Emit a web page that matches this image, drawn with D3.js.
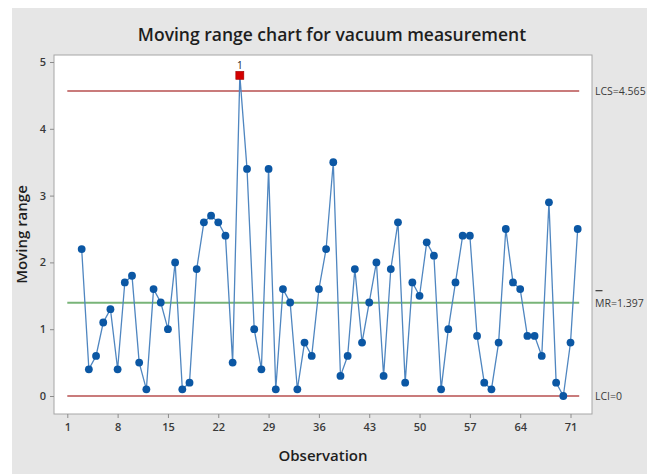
<!DOCTYPE html>
<html>
<head>
<meta charset="utf-8">
<script src="https://cdn.jsdelivr.net/npm/d3@7"></script>
<style>
  html, body { margin: 0; padding: 0; background: #ffffff; }
  svg { display: block; }
  text { font-family: "Open Sans", "Noto Sans", sans-serif; }
</style>
</head>
<body>
<svg id="chart" width="647" height="475"></svg>
<script>
// Moving ranges of the vacuum measurement, observations 3 to 72
const firstObservation = 3;
const movingRange = [
  2.2, 0.4, 0.6, 1.1, 1.3, 0.4, 1.7, 1.8, 0.5, 0.1,
  1.6, 1.4, 1.0, 2.0, 0.1, 0.2, 1.9, 2.6, 2.7, 2.6,
  2.4, 0.5, 4.8, 3.4, 1.0, 0.4, 3.4, 0.1, 1.6, 1.4,
  0.1, 0.8, 0.6, 1.6, 2.2, 3.5, 0.3, 0.6, 1.9, 0.8,
  1.4, 2.0, 0.3, 1.9, 2.6, 0.2, 1.7, 1.5, 2.3, 2.1,
  0.1, 1.0, 1.7, 2.4, 2.4, 0.9, 0.2, 0.1, 0.8, 2.5,
  1.7, 1.6, 0.9, 0.9, 0.6, 2.9, 0.2, 0.0, 0.8, 2.5
];
const xTicks = [1, 8, 15, 22, 29, 36, 43, 50, 57, 64, 71];
const yTicks = [0, 1, 2, 3, 4, 5];
const ucl = 4.565;   // LCS
const mrBar = 1.397; // mean moving range
const lcl = 0;       // LCI
const obsRange = [1, 72];

const points = movingRange.map((v, i) => ({ obs: firstObservation + i, value: v, out: v > ucl }));

const svg = d3.select("#chart");

// panel background
svg.append("rect").attr("x", 12).attr("y", 8).attr("width", 635).attr("height", 466)
  .attr("fill", "#e6e6e6");

const frame = { left: 54, right: 592, top: 55, bottom: 414 };

const x = d3.scaleLinear().domain(obsRange).range([67.3, 577.7]);
const y = d3.scaleLinear().domain([0, 5]).range([396, 62]);

// plot area
svg.append("rect")
  .attr("x", frame.left).attr("y", frame.top)
  .attr("width", frame.right - frame.left).attr("height", frame.bottom - frame.top)
  .attr("fill", "#ffffff").attr("stroke", "#a6a6a6").attr("stroke-width", 1);

// axes
const xAxis = d3.axisBottom(x).tickValues(xTicks).tickFormat(d3.format("d"))
  .tickSize(4).tickPadding(5).tickSizeOuter(0);
const gx = svg.append("g").attr("transform", `translate(0,${frame.bottom})`).call(xAxis);
gx.select(".domain").remove();

const yAxis = d3.axisLeft(y).tickValues(yTicks).tickFormat(d3.format("d"))
  .tickSize(4).tickPadding(4).tickSizeOuter(0);
const gy = svg.append("g").attr("transform", `translate(${frame.left},0)`).call(yAxis);
gy.select(".domain").remove();

[gx, gy].forEach(g => {
  g.selectAll(".tick line").attr("stroke", "#8c8c8c");
  g.selectAll(".tick text").attr("fill", "#3a3a3a").attr("font-size", 11).attr("font-weight", 600);
});

// control limits and centre line
const limits = [
  { value: ucl, color: "#c97b7b", label: "LCS=4.565" },
  { value: mrBar, color: "#78b478", label: "MR=1.397" },
  { value: lcl, color: "#c97b7b", label: "LCI=0" }
];
svg.append("g").selectAll("line").data(limits).join("line")
  .attr("x1", x(obsRange[0])).attr("x2", x(obsRange[1]) + 1.5)
  .attr("y1", d => y(d.value)).attr("y2", d => y(d.value))
  .attr("stroke", d => d.color).attr("stroke-width", 2);

svg.append("g").selectAll("text").data(limits).join("text")
  .attr("x", 595).attr("y", d => y(d.value) + 4)
  .attr("font-size", 10.5).attr("fill", "#3a3a3a")
  .text(d => d.label);

// bar over "MR"
svg.append("line")
  .attr("x1", 595.5).attr("x2", 602.5)
  .attr("y1", y(mrBar) - 12).attr("y2", y(mrBar) - 12)
  .attr("stroke", "#3a3a3a").attr("stroke-width", 1.2);

// moving range series
const line = d3.line().x(d => x(d.obs)).y(d => y(d.value));
svg.append("path").datum(points)
  .attr("d", line).attr("fill", "none")
  .attr("stroke", "#4f86c0").attr("stroke-width", 1.3);

svg.append("g").selectAll("circle").data(points.filter(d => !d.out)).join("circle")
  .attr("cx", d => x(d.obs)).attr("cy", d => y(d.value)).attr("r", 3.9)
  .attr("fill", "#0b57a4");

const outPts = points.filter(d => d.out);
svg.append("g").selectAll("rect").data(outPts).join("rect")
  .attr("x", d => x(d.obs) - 4).attr("y", d => y(d.value) - 4)
  .attr("width", 8).attr("height", 8)
  .attr("fill", "#d40000").attr("stroke", "#a00000").attr("stroke-width", 0.6);
svg.append("g").selectAll("text").data(outPts).join("text")
  .attr("x", d => x(d.obs)).attr("y", d => y(d.value) - 6)
  .attr("text-anchor", "middle").attr("font-size", 10).attr("fill", "#222")
  .text("1");

// titles
svg.append("text").attr("x", 332).attr("y", 41)
  .attr("text-anchor", "middle").attr("font-size", 17.5).attr("font-weight", 600).attr("fill", "#1e1e1e")
  .text("Moving range chart for vacuum measurement");

svg.append("text").attr("x", (frame.left + frame.right) / 2).attr("y", 461)
  .attr("text-anchor", "middle").attr("font-size", 15).attr("font-weight", 600).attr("fill", "#1e1e1e")
  .text("Observation");

svg.append("text")
  .attr("transform", `translate(27,${(frame.top + frame.bottom) / 2}) rotate(-90)`)
  .attr("text-anchor", "middle").attr("font-size", 15).attr("font-weight", 600).attr("fill", "#1e1e1e")
  .text("Moving range");
</script>
</body>
</html>
